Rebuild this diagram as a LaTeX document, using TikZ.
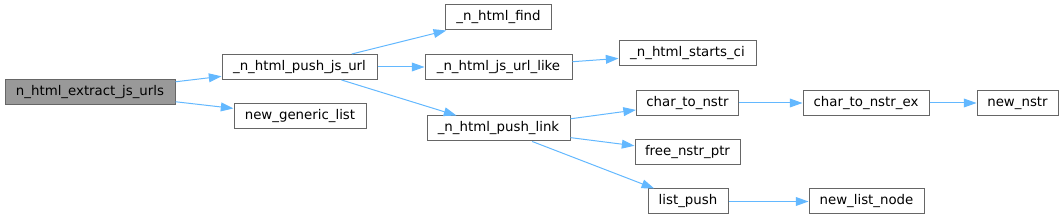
\documentclass[tikz,border=0pt]{standalone}
\usepackage{fontspec}
\setmainfont{DejaVu Sans}
\usetikzlibrary{arrows.meta}
\definecolor{edgeblue}{HTML}{63B8FF}
\definecolor{boxgray}{HTML}{666666}
\definecolor{rootfill}{HTML}{999999}
\tikzset{
  fn/.style={draw=boxgray, fill=white, line width=0.75pt, inner sep=0pt,
    minimum height=25\unitpx, font=\fontsize{10pt}{12pt}\selectfont, text=black},
  rootfn/.style={fn, fill=rootfill},
  call/.style={-{Triangle[length=9.5pt, width=6.6pt]}, line width=0.75pt,
    color=edgeblue, shorten <=0pt},
}
\newlength{\unitpx}
\setlength{\unitpx}{0.75pt}
\begin{document}
\begin{tikzpicture}[x=0.75pt,y=-0.75pt]
  \useasboundingbox (0,0) rectangle (1064,220);
  % functions, one column per call depth
  \node[rootfn, minimum width=170\unitpx] (extract) at (90,92) {n\_html\_extract\_js\_urls};
  \node[fn, minimum width=155\unitpx] (pushjs) at (299.5,67) {\_n\_html\_push\_js\_url};
  \node[fn, minimum width=132\unitpx] (genlist) at (300,116) {new\_generic\_list};
  \node[fn, minimum width=106\unitpx] (find) at (498.5,17.5) {\_n\_html\_find};
  \node[fn, minimum width=147\unitpx] (urllike) at (498.5,67) {\_n\_html\_js\_url\_like};
  \node[fn, minimum width=143\unitpx] (pushlink) at (498.5,128.5) {\_n\_html\_push\_link};
  \node[fn, minimum width=137\unitpx] (startsci) at (687.5,53.5) {\_n\_html\_starts\_ci};
  \node[fn, minimum width=102\unitpx] (tonstr) at (687.5,103) {char\_to\_nstr};
  \node[fn, minimum width=105\unitpx] (freeptr) at (687.5,152.5) {free\_nstr\_ptr};
  \node[fn, minimum width=80\unitpx] (listpush) at (688,201.5) {list\_push};
  \node[fn, minimum width=126\unitpx] (tonstrex) at (866,103) {char\_to\_nstr\_ex};
  \node[fn, minimum width=115\unitpx] (listnode) at (866.5,201.5) {new\_list\_node};
  \node[fn, minimum width=81\unitpx] (newnstr) at (1017.5,103) {new\_nstr};
  % calls
  \draw[call] (extract) -- (pushjs);
  \draw[call] (extract) -- (genlist);
  \draw[call] (pushjs) -- (find);
  \draw[call] (pushjs) -- (urllike);
  \draw[call] (pushjs) -- (pushlink);
  \draw[call] (urllike) -- (startsci);
  \draw[call] (pushlink) -- (tonstr);
  \draw[call] (pushlink) -- (freeptr);
  \draw[call] (pushlink) -- (listpush);
  \draw[call] (tonstr) -- (tonstrex);
  \draw[call] (tonstrex) -- (newnstr);
  \draw[call] (listpush) -- (listnode);
\end{tikzpicture}
\end{document}
